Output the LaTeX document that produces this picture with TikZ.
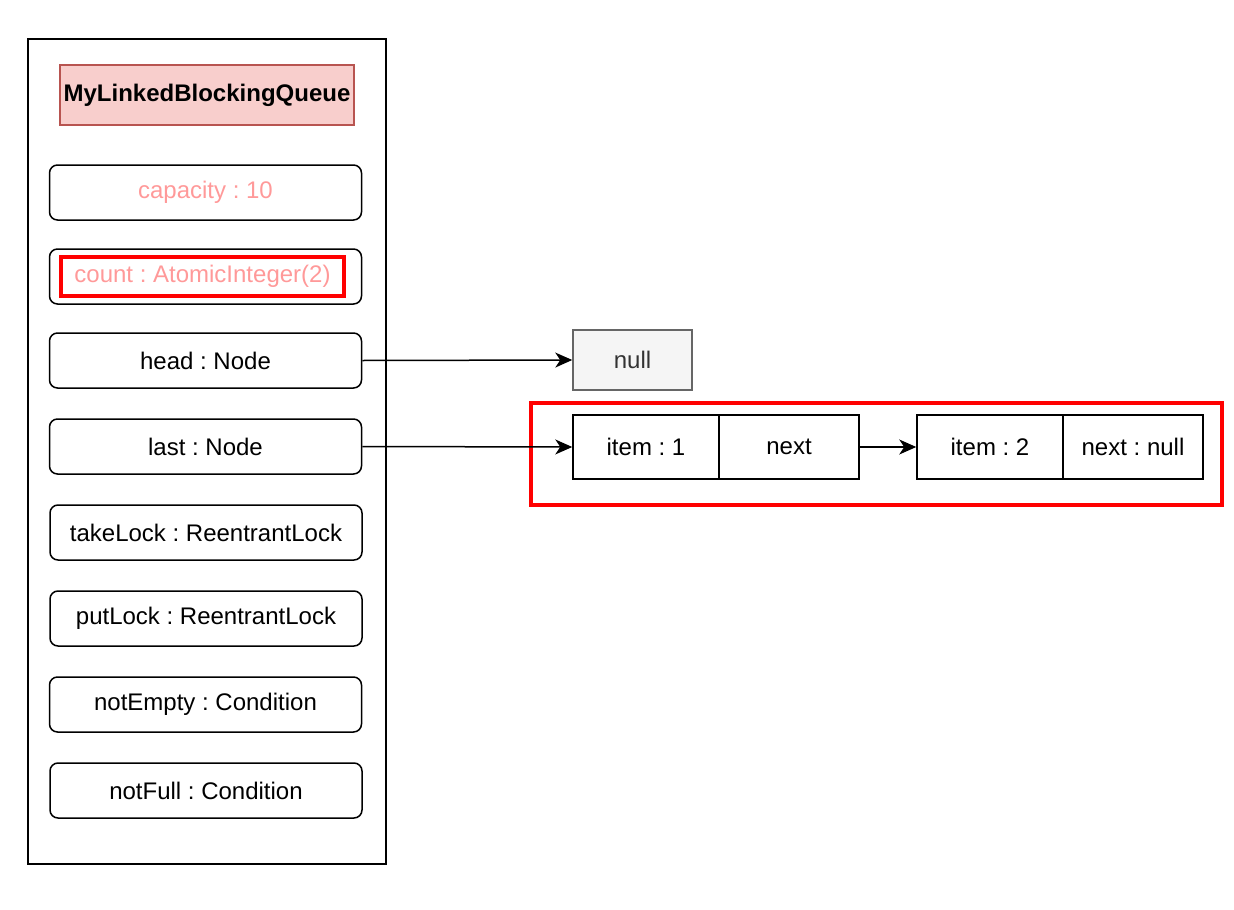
\documentclass[tikz,border=0pt]{standalone}
\usepackage{fontspec}
\setmainfont{Liberation Sans}
\usetikzlibrary{arrows.meta}
\definecolor{titlefill}{HTML}{F8CECC}
\definecolor{titlestroke}{HTML}{B85450}
\definecolor{pinktext}{HTML}{FF9999}
\definecolor{nullfill}{HTML}{F5F5F5}
\definecolor{nullstroke}{HTML}{666666}
\definecolor{nulltext}{HTML}{333333}
\definecolor{hlred}{HTML}{FF0000}
\frenchspacing
\begin{document}
\begin{tikzpicture}[x=1pt,y=-1pt,
  every node/.style={font=\fontsize{24}{28}\selectfont},
  field/.style={draw=black, line width=1.5pt, rounded corners=8pt, minimum width=312pt, minimum height=55pt, inner sep=0pt, anchor=center},
  cell/.style={draw=black, line width=1.5pt, minimum height=64pt, inner sep=0pt},
  conn/.style={line width=1.5pt, -{Stealth[length=17pt,width=15pt,inset=5pt]}},
  hl/.style={draw=hlred, line width=4pt}]
\useasboundingbox (0,0) rectangle (1234,910);
% outer container
\node[draw=black, line width=1.8pt, minimum width=358pt, minimum height=825pt, inner sep=0pt] (outer) at (207,451.5) {};
% title
\node[draw=titlestroke, fill=titlefill, line width=1.5pt, minimum width=294pt, minimum height=60pt, inner sep=0pt, font=\fontsize{24}{28}\selectfont\bfseries] (title) at (207,95) {MyLinkedBlockingQueue};
% fields
\node[field, text=pinktext] (cap) at (205.5,192.5) {capacity : 10};
\node[field] (count) at (205.5,276.5) {};
\node[hl, minimum width=283pt, minimum height=39pt, inner sep=0pt, text=pinktext] (countlbl) at (202.5,276.5) {count : AtomicInteger(2)};
\node[field] (head) at (205.5,360.5) {head : Node};
\node[field] (last) at (205.5,446.5) {last : Node};
\node[field] (take) at (206,532.5) {takeLock : ReentrantLock};
\node[field] (put) at (206,618.5) {putLock : ReentrantLock};
\node[field] (nempty) at (205.5,704.5) {notEmpty : Condition};
\node[field] (nfull) at (206,790.5) {notFull : Condition};
% null node
\node[draw=nullstroke, fill=nullfill, line width=1.5pt, minimum width=119pt, minimum height=60pt, inner sep=0pt, text=nulltext] (null) at (632.5,360) {null};
% highlighted list
\node[hl, minimum width=691pt, minimum height=102pt, inner sep=0pt] (listbox) at (876.5,454) {};
\node[cell, minimum width=146pt] (item1) at (646,447) {item : 1};
\node[cell, minimum width=140pt] (next1) at (789,447) {next};
\node[cell, minimum width=146pt] (item2) at (990,447) {item : 2};
\node[cell, minimum width=140pt] (next2) at (1133,447) {next : null};
% connectors
\draw[conn] (head.east) -- (null.west);
\draw[conn] (last.east) -- (item1.west);
\draw[conn] (next1.east) -- (item2.west);
\end{tikzpicture}
\end{document}
